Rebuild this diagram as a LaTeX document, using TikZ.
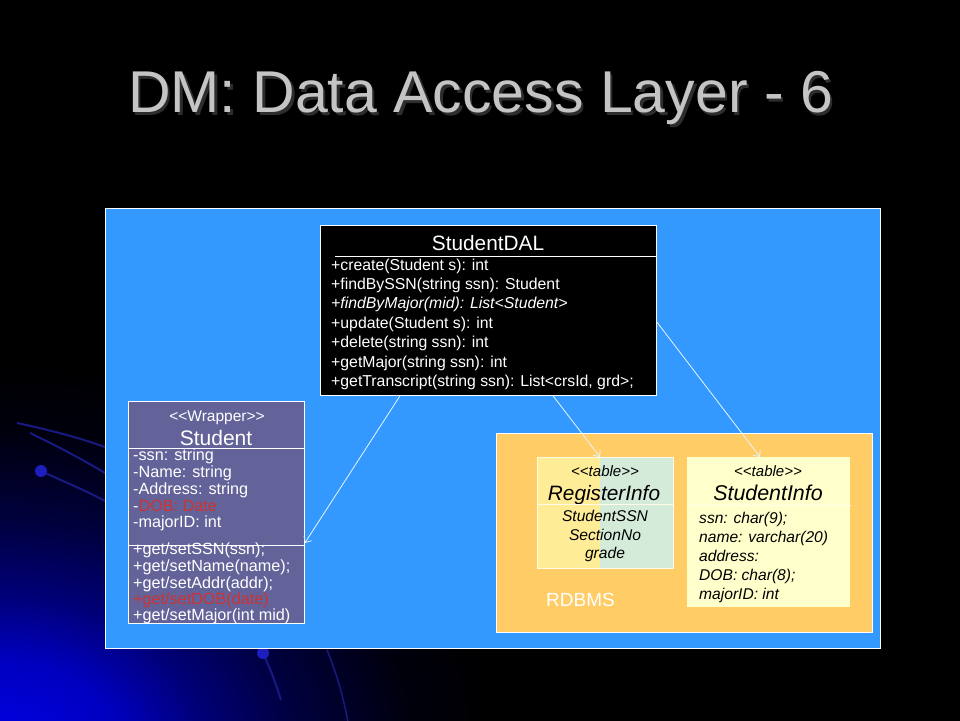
\documentclass[tikz,border=0pt]{standalone}
\usepackage{fontspec}
\setmainfont{Liberation Sans}[Ligatures=TeXOff]
\usetikzlibrary{arrows.meta}
\definecolor{panelblue}{RGB}{51,153,255}
\definecolor{dbor}{RGB}{255,204,102}
\definecolor{stufill}{RGB}{99,99,153}
\definecolor{redtxt}{RGB}{204,51,51}
\definecolor{regyel}{RGB}{255,236,150}
\definecolor{reggrn}{RGB}{213,235,218}
\definecolor{infoyel}{RGB}{255,255,204}
\definecolor{titlegray}{RGB}{196,196,196}
\definecolor{shadowgray}{RGB}{45,45,45}
\definecolor{arcblue}{RGB}{25,25,130}
\definecolor{dotblue}{RGB}{30,30,190}
\definecolor{regborder}{RGB}{255,250,230}
\definecolor{connwhite}{RGB}{235,245,255}
\pgfdeclareradialshading{glowshade}{\pgfpoint{0bp}{0bp}}{%
  rgb(0bp)=(0,0,0.92);
  rgb(100bp)=(0,0,0.75);
  rgb(165bp)=(0,0,0.47);
  rgb(240bp)=(0,0,0.24);
  rgb(330bp)=(0,0,0.05);
  rgb(400bp)=(0,0,0);
  rgb(420bp)=(0,0,0)}
\begin{document}
\begin{tikzpicture}[x=1pt,y=-1pt,
  boxnode/.style={anchor=north west, inner sep=0pt, line width=0.8pt},
  wtxt/.style={anchor=base west, inner sep=0pt, text=white, font=\fontsize{15.8}{18}\selectfont},
  stxt/.style={anchor=base west, inner sep=0pt, text=white, font=\fontsize{16.2}{18}\selectfont},
  ktxt/.style={anchor=base west, inner sep=0pt, text=black, font=\fontsize{15.6}{18}\selectfont\itshape},
  rtxt/.style={anchor=base, inner sep=0pt, text=black, font=\fontsize{15.6}{18}\selectfont\itshape},
  ctxt/.style={anchor=base, inner sep=0pt},
  conn/.style={draw=connwhite, line width=0.8pt, -{Straight Barb[length=5pt,width=9pt]}}
]
\useasboundingbox (0,0) rectangle (960,720);
% background
\fill[black] (-5,-5) rectangle (965,725);
\begin{scope}
\clip (-2,-2) rectangle (962,722);
\node[inner sep=0pt, xscale=1.25] (glowbg) at (0,760) {\pgfuseshading{glowshade}};
\draw[line width=2pt, color=arcblue] (17,423) .. controls (50,430) and (80,438) .. (105,447);
\draw[line width=2pt, color=arcblue] (30,433) .. controls (55,445) and (80,458) .. (105,473);
\draw[line width=2pt, color=arcblue] (41,471) .. controls (60,480) and (85,490) .. (105,501);
\fill[color=dotblue] (41,471) circle (6pt);
\draw[line width=2pt, color=arcblue] (263,653) .. controls (270,668) and (276,684) .. (281,700);
\fill[color=dotblue] (263,653) circle (6pt);
\draw[line width=1.5pt, color=arcblue] (327,650) .. controls (336,672) and (343,695) .. (348,722);
\end{scope}
% title
\node[ctxt, text=titlegray, font=\fontsize{59}{70}\selectfont] (title) at (480.5,112)
  {\makebox[0pt][l]{\hspace{2.5pt}\raisebox{-3pt}{\textcolor{shadowgray}{DM: Data Access Layer - 6}}}DM: Data Access Layer - 6};
% panels
\node[boxnode, draw=white, fill=panelblue, minimum width=775pt, minimum height=440pt] (panel) at (105,208) {};
\node[boxnode, draw=white, fill=dbor, minimum width=376pt, minimum height=199pt] (rdbms) at (496,433) {};
\node[anchor=base west, inner sep=0pt, text=white, font=\fontsize{19}{22}\selectfont] (rdbmslabel) at (546,606) {RDBMS};
% StudentDAL
\node[boxnode, draw=white, fill=black, minimum width=336pt, minimum height=170pt] (dal) at (320,225) {};
\node[ctxt, text=white, font=\fontsize{20.8}{24}\selectfont] (daltitle) at (488,250) {StudentDAL};
\draw[white, line width=0.8pt] ([xshift=15pt,yshift=-31pt]dal.north west) -- ([yshift=-31pt]dal.north east);
\node[wtxt] (d1) at (331,270) {+create(Student s): int};
\node[wtxt] (d2) at (331,289.4) {+findBySSN(string ssn): Student};
\node[wtxt] (d3) at (331,308.8) {\itshape +findByMajor(mid): List<Student>};
\node[wtxt] (d4) at (331,328.2) {+update(Student s): int};
\node[wtxt] (d5) at (331,347.6) {+delete(string ssn): int};
\node[wtxt] (d6) at (331,367) {+getMajor(string ssn): int};
\node[wtxt] (d7) at (331,386.4) {+getTranscript(string ssn): List<crsId, grd>;};
% Student
\node[boxnode, draw=white, fill=stufill, minimum width=176pt, minimum height=222pt] (stu) at (128,401) {};
\node[ctxt, text=white, font=\fontsize{15.5}{18}\selectfont] (stustereo) at (217,421) {<<Wrapper>>};
\node[ctxt, text=white, font=\fontsize{21}{24}\selectfont] (stutitle) at (216,445) {Student};
\draw[white, line width=0.8pt] ([yshift=-47pt]stu.north west) -- ([yshift=-47pt]stu.north east);
\node[stxt] (s1) at (133,460) {-ssn: string};
\node[stxt] (s2) at (133,477) {-Name: string};
\node[stxt] (s3) at (133,494) {-Address: string};
\node[stxt] (s4) at (133,511) {-\textcolor{redtxt}{DOB: Date}};
\node[stxt] (s5) at (133,527.5) {-majorID: int};
\draw[white, line width=0.8pt] ([yshift=-144.5pt]stu.north west) -- ([yshift=-144.5pt]stu.north east);
\node[stxt] (m1) at (133,554) {+get/setSSN(ssn);};
\node[stxt] (m2) at (133,571) {+get/setName(name);};
\node[stxt] (m3) at (133,588) {+get/setAddr(addr);};
\node[stxt, text=redtxt] (m4) at (133,604.5) {+get/setDOB(date)};
\node[stxt] (m5) at (133,620) {+get/setMajor(int mid)};
% RegisterInfo
\node[boxnode, draw=regborder, fill=reggrn, minimum width=136pt, minimum height=111pt,
  path picture={\fill[regyel] (path picture bounding box.north west) rectangle ([xshift=63pt]path picture bounding box.south west);}] (reg) at (537,457) {};
\node[ctxt, text=black, font=\fontsize{15}{17}\selectfont\itshape] (regstereo) at (605,476.5) {<<table>>};
\node[ctxt, text=black, font=\fontsize{20.8}{24}\selectfont\itshape] (regtitle) at (604,500) {RegisterInfo};
\draw[regborder, line width=0.8pt] ([yshift=-47pt]reg.north west) -- ([yshift=-47pt]reg.north east);
\node[rtxt] (r1) at (605,521) {StudentSSN};
\node[rtxt] (r2) at (605,540) {SectionNo};
\node[rtxt] (r3) at (605,558) {grade};
% StudentInfo
\node[boxnode, fill=infoyel, minimum width=163pt, minimum height=150pt] (sinfo) at (687,457) {};
\node[ctxt, text=black, font=\fontsize{15}{17}\selectfont\itshape] (sistereo) at (768,476.5) {<<table>>};
\node[ctxt, text=black, font=\fontsize{21.4}{24}\selectfont\itshape] (sititle) at (768,500) {StudentInfo};
\draw[white, opacity=0.7, line width=0.8pt] ([yshift=-48pt]sinfo.north west) -- ([yshift=-48pt]sinfo.north east);
\node[ktxt] (i1) at (699,523) {ssn: char(9);};
\node[ktxt] (i2) at (699,542) {name: varchar(20)};
\node[ktxt] (i3) at (699,561) {address:};
\node[ktxt] (i4) at (699,580) {DOB: char(8);};
\node[ktxt] (i5) at (699,599) {majorID: int};
% connectors
\draw[conn] ([xshift=80pt]dal.south west) -- ([yshift=-142pt]stu.north east);
\draw[conn] ([xshift=233pt]dal.south west) -- ([xshift=63pt]reg.north west);
\draw[conn] ([yshift=-97pt]dal.north east) -- ([xshift=73pt]sinfo.north west);
\end{tikzpicture}
\end{document}
